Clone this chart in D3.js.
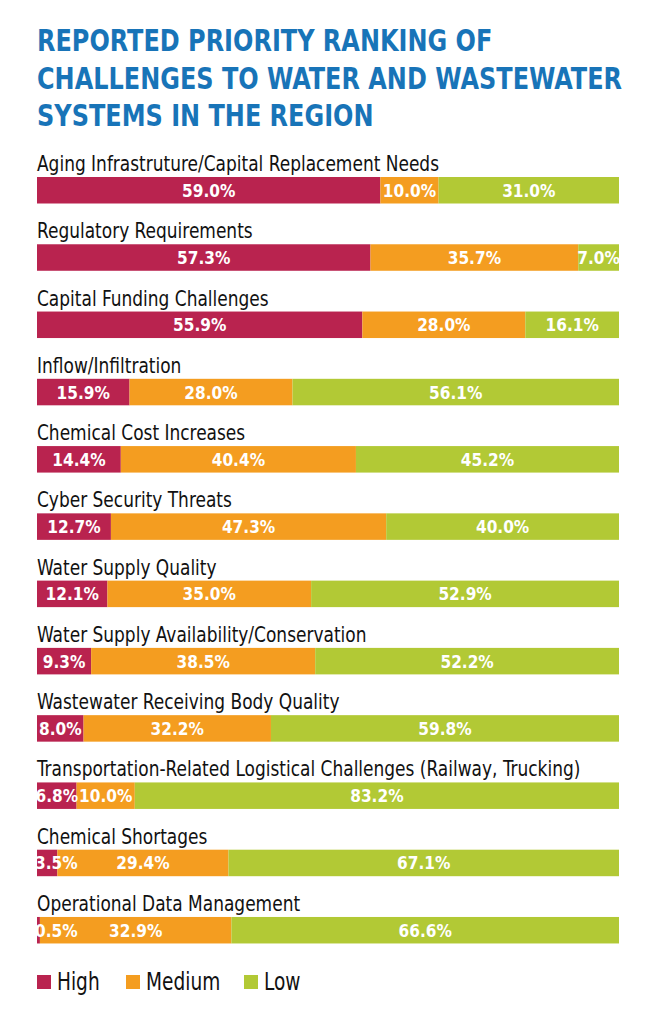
<!DOCTYPE html>
<html>
<head>
<meta charset="utf-8">
<script src="https://cdn.jsdelivr.net/npm/d3@7"></script>
<style>
	body { margin: 0; background: #fff; }
	svg { display: block; font-family: "Liberation Sans Narrow", "DejaVu Sans Condensed", sans-serif; }
</style>
</head>
<body>
<div id="chart"></div>
<script>
const titleLines = [
	"REPORTED PRIORITY RANKING OF",
	"CHALLENGES TO WATER AND WASTEWATER",
	"SYSTEMS IN THE REGION",
];
const categories = [
	"Aging Infrastruture/Capital Replacement Needs",
	"Regulatory Requirements",
	"Capital Funding Challenges",
	"Inflow/Infiltration",
	"Chemical Cost Increases",
	"Cyber Security Threats",
	"Water Supply Quality",
	"Water Supply Availability/Conservation",
	"Wastewater Receiving Body Quality",
	"Transportation-Related Logistical Challenges (Railway, Trucking)",
	"Chemical Shortages",
	"Operational Data Management",
];
const high = [59.0, 57.3, 55.9, 15.9, 14.4, 12.7, 12.1, 9.3, 8.0, 6.8, 3.5, 0.5];
const medium = [10.0, 35.7, 28.0, 28.0, 40.4, 47.3, 35.0, 38.5, 32.2, 10.0, 29.4, 32.9];
const low = [31.0, 7.0, 16.1, 56.1, 45.2, 40.0, 52.9, 52.2, 59.8, 83.2, 67.1, 66.6];
const seriesNames = ["High", "Medium", "Low"];

const colors = {
	High: "#b9234f",
	Medium: "#f49d20",
	Low: "#b2c935",
};

const width = 663;
const height = 1024;
const rowStep = 67.27;
const barHeight = 26.5;

const rows = categories.map((c, i) => ({
	category: c,
	High: high[i],
	Medium: medium[i],
	Low: low[i],
}));

const stacked = d3.stack().keys(seriesNames)(rows);

const xScale = d3.scaleLinear().domain([0, 100]).range([37, 619]);
const yScale = d3.scaleBand()
	.domain(categories)
	.range([150, 150 + rowStep * categories.length]);

const svg = d3.select("#chart")
	.append("svg")
	.attr("width", width)
	.attr("height", height);

// title (font is narrowed to look like the condensed original)
svg.append("g")
	.selectAll("text")
	.data(titleLines)
	.enter()
	.append("text")
	.attr("transform", (d, i) => `translate(37, ${51 + i * 37.5}) scale(0.86, 1)`)
	.attr("fill", "#1874b8")
	.attr("font-weight", "bold")
	.attr("font-size", "31px")
	.text((d) => d);

// category labels
svg.append("g")
	.selectAll("text")
	.data(categories)
	.enter()
	.append("text")
	.attr("transform", (d) => `translate(37, ${yScale(d) + 21}) scale(0.9, 1)`)
	.attr("fill", "#111")
	.attr("font-size", "21px")
	.text((d) => d);

svg.append("defs")
	.append("clipPath")
	.attr("id", "bars-clip")
	.append("rect")
	.attr("x", xScale(0))
	.attr("y", 0)
	.attr("width", xScale(100) - xScale(0))
	.attr("height", height);

// bar segments
svg.append("g")
	.selectAll("g")
	.data(stacked)
	.enter()
	.append("g")
	.attr("fill", (s) => colors[s.key])
	.selectAll("rect")
	.data((s) => s)
	.enter()
	.append("rect")
	.attr("x", (d) => xScale(d[0]))
	.attr("y", (d) => yScale(d.data.category) + 27)
	.attr("width", (d) => xScale(d[1]) - xScale(d[0]))
	.attr("height", barHeight);

// value labels (drawn over all segments)
const labels = svg.append("g")
	.attr("clip-path", "url(#bars-clip)")
	.selectAll("g")
	.data(stacked)
	.enter()
	.append("g")
	.selectAll("text")
	.data((s) => s.map((d) => ({ d: d, key: s.key })))
	.enter()
	.append("text")
	.attr("fill", "#fff")
	.attr("font-weight", "bold")
	.attr("font-size", "18px")
	.attr("text-anchor", "middle")
	.text((o) => o.d.data[o.key].toFixed(1) + "%");

labels.attr("transform", function (o) {
	let center = (xScale(o.d[0]) + xScale(o.d[1])) / 2;
	let w = this.getComputedTextLength() * 0.95;
	let x = Math.max(center, xScale(0) + w / 2 - 2);
	let y = yScale(o.d.data.category) + 27 + barHeight / 2 + 6.5;
	return `translate(${x}, ${y}) scale(0.95, 1)`;
});

// legend
const legendX = [37, 126, 244];
const legend = svg.append("g")
	.selectAll("g")
	.data(seriesNames)
	.enter()
	.append("g")
	.attr("transform", (d, i) => `translate(${legendX[i]}, 975)`);

legend.append("rect")
	.attr("width", 14)
	.attr("height", 14)
	.attr("fill", (d) => colors[d]);

legend.append("text")
	.attr("transform", "translate(20, 15) scale(0.86, 1)")
	.attr("fill", "#111")
	.attr("font-size", "24px")
	.text((d) => d);
</script>
</body>
</html>
